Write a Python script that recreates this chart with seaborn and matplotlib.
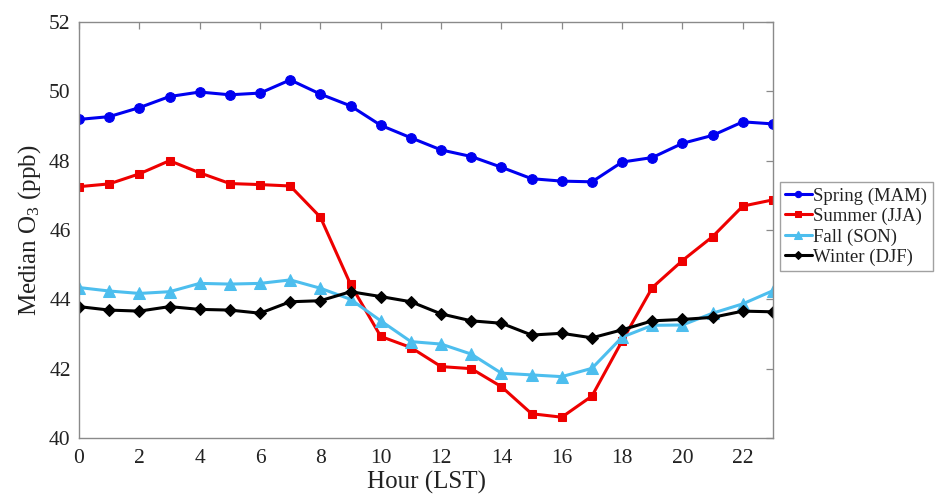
import numpy as np
import pandas as pd
import matplotlib
matplotlib.use("Agg")
import matplotlib.pyplot as plt
import seaborn as sns

hours = list(range(24))

spring = [49.19, 49.27, 49.53, 49.85, 49.98, 49.90, 49.95, 50.33, 49.92, 49.58,
          49.02, 48.66, 48.31, 48.12, 47.81, 47.48, 47.41, 47.39, 47.96, 48.09,
          48.50, 48.73, 49.12, 49.06]
summer = [47.25, 47.33, 47.62, 48.00, 47.65, 47.34, 47.31, 47.27, 46.37, 44.43,
          42.93, 42.61, 42.06, 42.00, 41.48, 40.70, 40.60, 41.21, 42.80, 44.34,
          45.12, 45.81, 46.69, 46.87]
fall = [44.34, 44.24, 44.17, 44.22, 44.46, 44.44, 44.46, 44.56, 44.32, 44.00,
        43.38, 42.78, 42.71, 42.42, 41.87, 41.82, 41.77, 42.01, 42.91, 43.25,
        43.26, 43.60, 43.87, 44.25]
winter = [43.79, 43.69, 43.66, 43.79, 43.71, 43.69, 43.60, 43.93, 43.96, 44.22,
          44.08, 43.93, 43.58, 43.38, 43.31, 42.97, 43.02, 42.89, 43.12, 43.38,
          43.42, 43.48, 43.66, 43.64]

season_labels = ["Spring (MAM)", "Summer (JJA)", "Fall (SON)", "Winter (DJF)"]
x_ticks = list(range(0, 24, 2))
y_ticks = list(range(40, 53, 2))

sns.set_theme(style="white")
plt.rcParams["font.family"] = ["Liberation Serif", "DejaVu Serif"]
plt.rcParams["mathtext.fontset"] = "custom"
plt.rcParams["mathtext.rm"] = "Liberation Serif"
plt.rcParams["mathtext.it"] = "Liberation Serif:italic"

df = pd.DataFrame({
    "hour": hours * 4,
    "o3": spring + summer + fall + winter,
    "season": np.repeat(season_labels, len(hours)),
})

colors = ["#0000F0", "#EE0000", "#4DBEEE", "#000000"]
markers = ["o", "s", "^", "D"]
msizes = [7, 6, 8, 6]

fig = plt.figure(figsize=(9.36, 4.97), dpi=100)
ax = fig.add_axes([79 / 936, 1 - 438 / 497, (773 - 79) / 936, (438 - 22) / 497])

for lab, c, m, ms in zip(season_labels, colors, markers, msizes):
    sub = df[df["season"] == lab]
    sns.lineplot(data=sub, x="hour", y="o3", ax=ax, color=c, marker=m,
                 markersize=ms, markeredgecolor=c, linewidth=2.2, label=lab)

ax.set_xlim(0, 23)
ax.set_ylim(40, 52)
ax.set_xticks(x_ticks)
ax.set_yticks(y_ticks)
ax.tick_params(axis="both", direction="in", length=5, width=0.9, color="#8a8a8a",
               labelsize=15.5, top=True, right=True, pad=6, labelcolor="#222222")
ax.tick_params(axis="x", pad=8)
for sp in ax.spines.values():
    sp.set_visible(True)
    sp.set_color("#8a8a8a")
    sp.set_linewidth(1.0)

ax.set_xlabel("Hour (LST)", fontsize=18, labelpad=2, color="#222222")
ax.set_ylabel(r"Median O$_3$ (ppb)", fontsize=18, labelpad=4, color="#222222")

leg = ax.legend(loc="upper left", bbox_to_anchor=(780 / 936, 1 - 182 / 497),
                bbox_transform=fig.transFigure, fontsize=13.5, frameon=True,
                fancybox=False, edgecolor="#8a8a8a", handlelength=1.4,
                handletextpad=0.1, borderpad=0.28, labelspacing=0.17,
                borderaxespad=0, markerscale=0.65)
leg.get_frame().set_linewidth(1.0)
for t in leg.get_texts():
    t.set_color("#222222")

fig.savefig("out.png", dpi=100)
